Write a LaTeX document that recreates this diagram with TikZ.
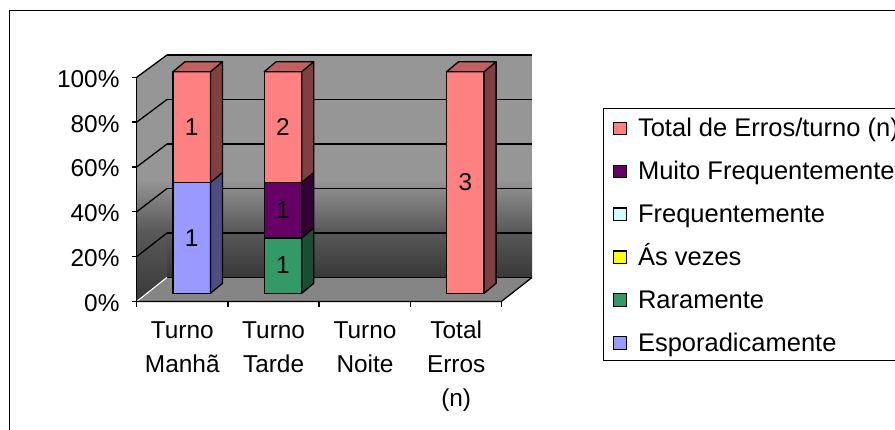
\documentclass[tikz,border=0pt]{standalone}
\usepackage{fontspec}
\setmainfont{Liberation Sans}
\definecolor{wallgray}{HTML}{969696}
\definecolor{walldark}{HTML}{5A5A5A}
\definecolor{walldeep}{HTML}{383838}
\definecolor{floorgray}{HTML}{858585}
\definecolor{redface}{HTML}{FF8080}
\definecolor{redtop}{HTML}{C06060}
\definecolor{redside}{HTML}{804040}
\definecolor{blueface}{HTML}{9999FF}
\definecolor{blueside}{HTML}{4D4D80}
\definecolor{purpface}{HTML}{660066}
\definecolor{purpside}{HTML}{330033}
\definecolor{greenface}{HTML}{339966}
\definecolor{greenside}{HTML}{1A4D33}
\definecolor{cyanface}{HTML}{CCFFFF}
\definecolor{yellface}{HTML}{FFFF00}
\newcommand{\bseg}[6]{%
  \filldraw[barline,fill=#4] (#1,{293.3-#2*221.6}) rectangle ({#1+37.5},{293.3-#3*221.6});
  \filldraw[barline,fill=#5] ({#1+37.5},{293.3-#2*221.6}) -- ({#1+49.5},{283.3-#2*221.6}) -- ({#1+49.5},{283.3-#3*221.6}) -- ({#1+37.5},{293.3-#3*221.6}) -- cycle;
  \node[lbl] at ({#1+18.75},{293.3-(#2+#3)/2*221.6}) {#6};
}
\newcommand{\btop}[2]{%
  \filldraw[barline,fill=redtop] (#1,{293.3-#2*221.6}) -- ({#1+12},{283.3-#2*221.6}) -- ({#1+49.5},{283.3-#2*221.6}) -- ({#1+37.5},{293.3-#2*221.6}) -- cycle;
}
\begin{document}
\begin{tikzpicture}[x=1pt,y=-1pt,
  barline/.style={draw=black,line width=1.3pt,line join=round},
  lbl/.style={font=\fontsize{24.4}{28}\selectfont},
  axlbl/.style={font=\fontsize{24.4}{28}\selectfont,anchor=base east},
  catlbl/.style={font=\fontsize{24.4}{28}\selectfont,anchor=base},
  leglbl/.style={font=\fontsize{25.5}{30}\selectfont,anchor=base west},
  legmark/.style={draw=black,line width=1.2pt,minimum size=12.5pt,inner sep=0pt},
  gridl/.style={draw=black,line width=1.3pt}]
\useasboundingbox (0,0) rectangle (895,430);
\clip (0,0) rectangle (895,430);
\fill[white] (0,0) rectangle (895,430);
% outer frame
\draw[line width=1.3pt] (9.5,440) -- (9.5,10.5) -- (905,10.5);
% back wall
\fill[wallgray] (167,55) rectangle (532,180);
\shade[top color=wallgray,bottom color=walldark] (167,179.5) rectangle (532,230);
\shade[top color=walldark,bottom color=walldeep] (167,229.5) rectangle (532,277.5);
% side wall
\begin{scope}
\clip (136.7,77.3) -- (167,55) -- (167,277.5) -- (136.7,301.5) -- cycle;
\fill[wallgray] (130,50) rectangle (170,180);
\shade[top color=wallgray,bottom color=walldark] (130,179.5) rectangle (170,230);
\shade[top color=walldark,bottom color=walldeep] (130,229.5) rectangle (170,302);
\end{scope}
% floor
\fill[floorgray] (136.7,301.5) -- (167,277.5) -- (532,277.5) -- (501.3,301.5) -- cycle;
% grid lines
\foreach \k in {0,...,5} {
  \draw[gridl] (136.7,{77.3+44.84*\k}) -- (167,{55+44.5*\k});
  \draw[gridl] (167,{55+44.5*\k}) -- (532,{55+44.5*\k});
}
\draw[white,line width=1.3pt] (137.5,300.9) -- (167,277.5);
\draw[gridl] (136.7,301.5) -- (501.3,301.5) -- (532,277.5);
% axes
\draw[gridl] (136.7,77.3) -- (136.7,301.5);
\foreach \k in {0,...,5} \draw[gridl] (131.5,{77.3+44.84*\k}) -- (136.7,{77.3+44.84*\k});
\foreach \i in {0,...,4} \draw[gridl] ({136.7+91.15*\i},301.5) -- ({136.7+91.15*\i},307);
% y labels
\node[axlbl] (y100) at (123,87.3) {100\%};
\node[axlbl] (y80) at (123,{87.3+44.84}) {80\%};
\node[axlbl] (y60) at (123,{87.3+2*44.84}) {60\%};
\node[axlbl] (y40) at (123,{87.3+3*44.84}) {40\%};
\node[axlbl] (y20) at (123,{87.3+4*44.84}) {20\%};
\node[axlbl] (y0) at (123,{87.3+5*44.84}) {0\%};
% bars
\bseg{173}{0}{0.5}{blueface}{blueside}{1}
\bseg{173}{0.5}{1}{redface}{redside}{1}
\btop{173}{1}
\bseg{264.2}{0}{0.25}{greenface}{greenside}{1}
\bseg{264.2}{0.25}{0.5}{purpface}{purpside}{1}
\bseg{264.2}{0.5}{1}{redface}{redside}{2}
\btop{264.2}{1}
\bseg{446.6}{0}{1}{redface}{redside}{3}
\btop{446.6}{1}
% category labels
\node[catlbl] (c1a) at (182.3,338.3) {Turno};
\node[catlbl] (c1b) at (182.3,372.7) {Manhã};
\node[catlbl] (c2a) at (273.6,338.3) {Turno};
\node[catlbl] (c2b) at (273.6,372.7) {Tarde};
\node[catlbl] (c3a) at (365,338.3) {Turno};
\node[catlbl] (c3b) at (365,372.7) {Noite};
\node[catlbl] (c4a) at (456.2,338.3) {Total};
\node[catlbl] (c4b) at (456.2,372.7) {Erros};
\node[catlbl] (c4c) at (456.2,407) {(n)};
% legend
\draw[line width=1.3pt,fill=white] (910,108.3) -- (603.3,108.3) -- (603.3,360.7) -- (910,360.7);
\foreach \lab/\col [count=\i from 0] in {{Total de Erros/turno (n)}/redface, {Muito Frequentemente}/purpface, {Frequentemente}/cyanface, {Ás vezes}/yellface, {Raramente}/greenface, {Esporadicamente}/blueface} {
  \node[legmark,fill=\col] (m\i) at (620,{128.5+42.9*\i}) {};
  \node[leglbl] (t\i) at (634.5,{137+42.9*\i}) {\lab};
}
\end{tikzpicture}
\end{document}
